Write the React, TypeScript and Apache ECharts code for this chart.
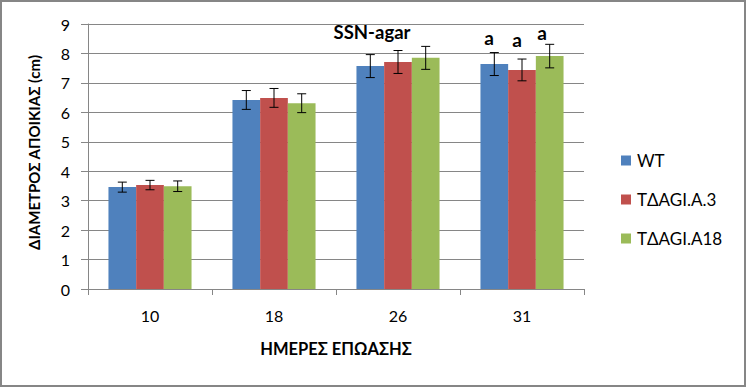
import React, { useEffect, useRef } from "react";
import * as echarts from "echarts";

const categories = ["10", "18", "26", "31"];
const seriesNames = ["WT", "TΔAGI.A.3", "TΔAGI.A18"];
const wtValues = [3.46, 6.42, 7.57, 7.64];
const a3Values = [3.53, 6.49, 7.71, 7.44];
const a18Values = [3.49, 6.31, 7.85, 7.91];
const wtErrors = [0.17, 0.32, 0.39, 0.39];
const a3Errors = [0.16, 0.32, 0.39, 0.37];
const a18Errors = [0.18, 0.32, 0.39, 0.4];
const colors = ["#4F81BD", "#C0504D", "#9BBB59"];
const yTicks = [0, 1, 2, 3, 4, 5, 6, 7, 8, 9];

const FONT = "Lato, 'Noto Sans', sans-serif";
const GAP = 0.33;

export default function App() {
  const ref = useRef<HTMLDivElement>(null);
  useEffect(() => {
    if (!ref.current) return;
    const chart = echarts.init(ref.current, null, { renderer: "svg" });
    const values = [wtValues, a3Values, a18Values];
    const errors = [wtErrors, a3Errors, a18Errors];

    const errorSeries = values.map((vals, si) => ({
      type: "custom",
      name: seriesNames[si] + " err",
      z: 5,
      silent: true,
      data: vals.map((v, i) => [i, v - errors[si][i], v + errors[si][i]]),
      renderItem: (params: any, api: any) => {
        const idx = api.value(0);
        const lo = api.coord([idx, api.value(1)]);
        const hi = api.coord([idx, api.value(2)]);
        const band = api.size([1, 0])[0];
        const bw = (band * (1 - GAP)) / 3;
        const x = lo[0] + (si - 1) * bw;
        const cap = 4.5;
        const style = { stroke: "#000", lineWidth: 1 };
        return {
          type: "group",
          children: [
            { type: "line", shape: { x1: x, y1: lo[1], x2: x, y2: hi[1] }, style },
            { type: "line", shape: { x1: x - cap, y1: lo[1], x2: x + cap, y2: lo[1] }, style },
            { type: "line", shape: { x1: x - cap, y1: hi[1], x2: x + cap, y2: hi[1] }, style },
          ],
        };
      },
    }));

    chart.setOption({
      animation: false,
      backgroundColor: "#fff",
      textStyle: { fontFamily: FONT },
      grid: { left: 88, right: 162, top: 24, bottom: 98 },
      legend: {
        orient: "vertical",
        left: 616,
        top: 146,
        itemWidth: 10,
        itemHeight: 10,
        itemGap: 20,
        icon: "rect",
        data: seriesNames,
        textStyle: { fontSize: 17, color: "#000", fontFamily: FONT, lineHeight: 19, padding: [0, 0, 0, 1] },
      },
      xAxis: {
        type: "category",
        data: categories,
        name: "ΗΜΕΡΕΣ ΕΠΩΑΣΗΣ",
        nameLocation: "middle",
        nameGap: 51,
        nameTextStyle: { fontSize: 16.5, fontWeight: "bold", color: "#000", fontFamily: FONT },
        axisLine: { lineStyle: { color: "#868686" } },
        axisTick: { show: true, length: 6, lineStyle: { color: "#868686" } },
        axisLabel: { fontSize: 16, color: "#000", margin: 18, fontFamily: FONT },
      },
      yAxis: {
        type: "value",
        min: 0,
        max: 9,
        interval: 1,
        name: "ΔΙΑΜΕΤΡΟΣ ΑΠΟΙΚΙΑΣ (cm)",
        nameLocation: "middle",
        nameGap: 47,
        nameRotate: 90,
        nameTextStyle: { fontSize: 15, fontWeight: "bold", color: "#000", fontFamily: FONT, padding: [0, 0, 0, 8] },
        axisLine: { show: true, lineStyle: { color: "#868686" } },
        axisTick: { show: true, inside: false, length: 7, lineStyle: { color: "#868686" } },
        axisLabel: {
          fontSize: 16,
          color: "#000",
          margin: 18,
          fontFamily: FONT,
          formatter: (v: number) => (yTicks.includes(v) ? String(v) : ""),
        },
        splitLine: { show: true, lineStyle: { color: "#868686" } },
      },
      graphic: [
        {
          type: "rect",
          shape: { x: 1, y: 1, width: 744, height: 385 },
          style: { fill: "none", stroke: "#868686", lineWidth: 2 },
          silent: true,
        },
        {
          type: "text",
          x: 372,
          y: 32,
          style: { text: "SSN-agar", fontSize: 18.5, fontWeight: "bold", fill: "#000", align: "center", verticalAlign: "middle", fontFamily: FONT },
        },
        {
          type: "text",
          x: 489,
          y: 37,
          style: { text: "a", fontSize: 19, fontWeight: "bold", fill: "#000", align: "center", verticalAlign: "middle", fontFamily: FONT },
        },
        {
          type: "text",
          x: 517,
          y: 39,
          style: { text: "a", fontSize: 19, fontWeight: "bold", fill: "#000", align: "center", verticalAlign: "middle", fontFamily: FONT },
        },
        {
          type: "text",
          x: 542,
          y: 32,
          style: { text: "a", fontSize: 19, fontWeight: "bold", fill: "#000", align: "center", verticalAlign: "middle", fontFamily: FONT },
        },
      ],
      series: [
        ...values.map((vals, si) => ({
          type: "bar",
          name: seriesNames[si],
          data: vals,
          barGap: "0%",
          barCategoryGap: GAP * 100 + "%",
          itemStyle: { color: colors[si] },
          z: 2,
        })),
        ...errorSeries,
      ],
    });
    return () => chart.dispose();
  }, []);
  return (
    <div
      ref={ref}
      style={{ position: "absolute", left: 0, top: 0, width: 746, height: 387 }}
    />
  );
}
